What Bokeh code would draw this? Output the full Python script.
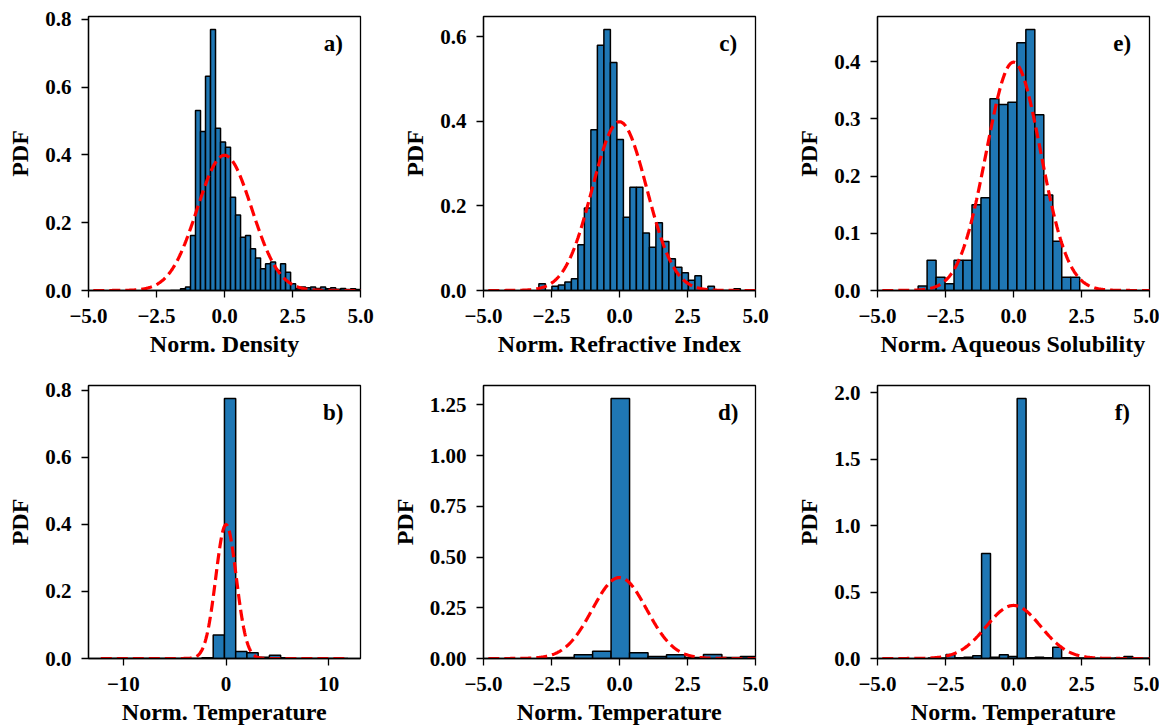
import numpy as np
from bokeh.plotting import figure
from bokeh.layouts import column, row
from bokeh.models import Range1d, FixedTicker, CustomJSTickFormatter, Label
from bokeh.embed import file_html
from bokeh.resources import INLINE

FONT = "Liberation Serif"

# ---------------- data ----------------
# a) Norm. Density
a_start, a_binw = -1.986, 0.184
dens_a = [0.0, 0.0, 0.005, 0.010, 0.162, 0.531, 0.469, 0.632, 0.770, 0.479,
          0.438, 0.423, 0.275, 0.223, 0.157, 0.162, 0.123, 0.096, 0.064, 0.079,
          0.084, 0.059, 0.079, 0.054, 0.020, 0.005, 0.010, 0.008, 0.010, 0.006,
          0.010, 0.005, 0.008, 0.004, 0.006, 0.003, 0.005, 0.003]
# c) Norm. Refractive Index
c_start, c_binw = -2.964, 0.239
dens_c = [0.016, 0.0, 0.010, 0.013, 0.020, 0.028, 0.108, 0.195, 0.380, 0.580,
          0.617, 0.539, 0.357, 0.173, 0.244, 0.244, 0.136, 0.102, 0.160, 0.116,
          0.075, 0.055, 0.042, 0.024, 0.035, 0.0, 0.010, 0.0, 0.0, 0.0, 0.004]
# e) Norm. Aqueous Solubility
e_start, e_binw = -3.506, 0.330
dens_e = [0.008, 0.053, 0.023, 0.012, 0.053, 0.053, 0.150, 0.162, 0.335, 0.325,
          0.329, 0.433, 0.456, 0.307, 0.167, 0.086, 0.023, 0.023]
# b) Norm. Temperature
b_start, b_binw = -12.2, 1.095
dens_b = [0.0, 0.0, 0.0, 0.0, 0.0, 0.0, 0.0, 0.0, 0.0, 0.002, 0.070, 0.775,
          0.021, 0.017, 0.004, 0.010, 0.002, 0.0, 0.0, 0.0, 0.0, 0.0]
# d) Norm. Temperature
d_start, d_binw = -3.025, 0.679
dens_d = [0.003, 0.005, 0.019, 0.036, 1.281, 0.028, 0.010, 0.019, 0.005, 0.020,
          0.005, 0.010]
# f) Norm. Temperature
f_start, f_binw = -3.135, 0.327
dens_f = [0.003, 0.003, 0.030, 0.005, 0.010, 0.020, 0.790, 0.010, 0.028, 0.015,
          1.955, 0.005, 0.010, 0.005, 0.085, 0.005, 0.003, 0.003, 0.002, 0.002,
          0.002, 0.003, 0.015, 0.003, 0.002]

# reference normal curve N(mu, sigma)
curve_mu, curve_sigma = 0.0, 1.0

x_labels = ["Norm. Density", "Norm. Refractive Index", "Norm. Aqueous Solubility",
            "Norm. Temperature", "Norm. Temperature", "Norm. Temperature"]
letters = ["a)", "c)", "e)", "b)", "d)", "f)"]


def fmt(decimals):
    return CustomJSTickFormatter(
        code="return tick.toFixed(%d).replace('-', '\\u2212');" % decimals)


def make_panel(start, binw, dens, xr, xticks, xdec, yticks, ydec, xlabel, letter,
               bl, br, bt, bb, fh, clo, chi):
    n = len(dens)
    left = [start + i * binw for i in range(n)]
    right = [start + (i + 1) * binw for i in range(n)]
    ymax = 1.05 * max(dens)
    fw = 272
    p = figure(width=bl + fw + br, height=bt + fh + bb, x_range=Range1d(xr[0], xr[1]),
               y_range=Range1d(0, ymax), output_backend="svg",
               toolbar_location=None, min_border_left=bl, min_border_right=br,
               min_border_top=bt, min_border_bottom=bb)
    p.quad(left=left, right=right, bottom=0, top=dens, fill_color="#1f77b4",
           line_color="black", line_width=1.5)
    xs = np.linspace(clo, chi, 500)
    ys = np.exp(-0.5 * ((xs - curve_mu) / curve_sigma) ** 2) / (curve_sigma * np.sqrt(2 * np.pi))
    p.line(xs, ys, line_color="red", line_width=3.2, line_dash="11 5")

    p.xaxis.ticker = FixedTicker(ticks=xticks)
    p.yaxis.ticker = FixedTicker(ticks=yticks)
    p.xaxis.formatter = fmt(xdec)
    p.yaxis.formatter = fmt(ydec)
    p.xaxis.axis_label = xlabel
    p.yaxis.axis_label = "PDF"
    for ax in (p.xaxis[0], p.yaxis[0]):
        ax.major_label_text_font = FONT
        ax.major_label_text_font_style = "bold"
        ax.major_label_text_font_size = "21px"
        ax.major_label_text_color = "black"
        ax.axis_label_text_font = FONT
        ax.axis_label_text_font_style = "bold"
        ax.axis_label_text_font_size = "24px"
        ax.axis_label_text_color = "black"
        ax.major_tick_out = 7
        ax.major_tick_in = 0
        ax.minor_tick_line_color = None
        ax.axis_line_width = 1.3
        ax.major_tick_line_width = 1.3
    p.xaxis.major_label_standoff = 11
    p.xaxis.axis_label_standoff = 5
    p.yaxis.major_label_standoff = 10
    p.yaxis.axis_label_standoff = 9
    p.xgrid.visible = False
    p.ygrid.visible = False
    p.outline_line_color = "black"
    p.outline_line_width = 1.3
    p.outline_line_alpha = 1.0
    p.background_fill_color = "white"
    p.border_fill_color = "white"
    lab = Label(x=xr[0] + 0.9 * (xr[1] - xr[0]), y=0.9 * ymax, text=letter,
                text_align="center", text_baseline="middle", text_font=FONT,
                text_font_style="bold", text_font_size="23px", text_color="black")
    p.add_layout(lab)
    return p


x5 = [-5, -2.5, 0, 2.5, 5]
# column borders (left, right) and row borders (top, bottom, frame height)
C1, C2, C3 = (88, 28), (95, 27), (95, 10)
R1, R2 = (16, 73, 274), (22, 69, 273)
pa = make_panel(a_start, a_binw, dens_a, (-5, 5), x5, 1, [0, 0.2, 0.4, 0.6, 0.8], 1,
                x_labels[0], letters[0], *C1, *R1, -6, 6)
pc = make_panel(c_start, c_binw, dens_c, (-5, 5), x5, 1, [0, 0.2, 0.4, 0.6], 1,
                x_labels[1], letters[1], *C2, *R1, -6, 6)
pe = make_panel(e_start, e_binw, dens_e, (-5, 5), x5, 1, [0, 0.1, 0.2, 0.3, 0.4], 1,
                x_labels[2], letters[2], *C3, *R1, -6, 6)
pb = make_panel(b_start, b_binw, dens_b, (-13.4, 13.1), [-10, 0, 10], 0,
                [0, 0.2, 0.4, 0.6, 0.8], 1,
                x_labels[3], letters[3], *C1, *R2, -12.2, 11.9)
pd_ = make_panel(d_start, d_binw, dens_d, (-5, 5), x5, 1,
                 [0, 0.25, 0.5, 0.75, 1.0, 1.25], 2,
                 x_labels[4], letters[4], *C2, *R2, -6, 6)
pf = make_panel(f_start, f_binw, dens_f, (-5, 5), x5, 1, [0, 0.5, 1.0, 1.5, 2.0], 1,
                x_labels[5], letters[5], *C3, *R2, -6, 6)

layout = column(row(pa, pc, pe, spacing=0), row(pb, pd_, pf, spacing=0), spacing=0)
open("out.html", "w").write(file_html(layout, INLINE))
